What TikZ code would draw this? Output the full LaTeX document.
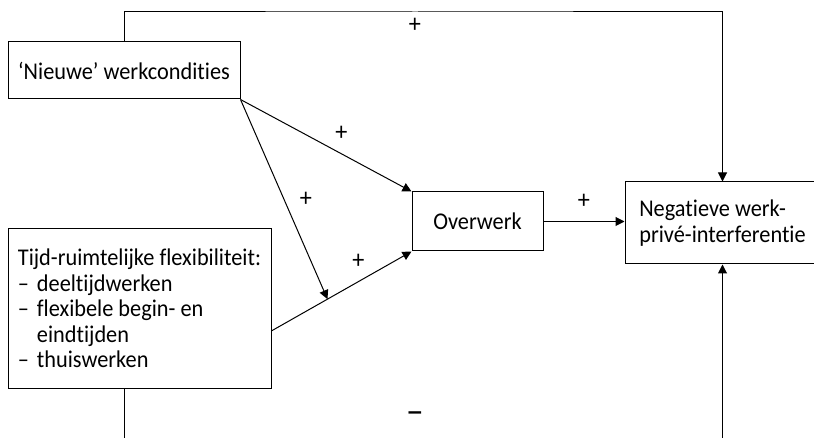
\documentclass[tikz,border=0pt]{standalone}
\usepackage{fontspec}
\setmainfont{Carlito}[Ligatures={TeX,NoCommon}, FakeStretch=0.93]
\usetikzlibrary{arrows.meta,calc}

\newcommand{\itm}[1]{\makebox[9.5pt][l]{–}#1}

\tikzset{
  blok/.style={draw, line width=0.5pt, inner sep=2pt, font=\fontsize{12}{12.8}\selectfont},
  pijl/.style={line width=0.5pt, -{Triangle[length=4.5pt,width=4.5pt]}},
  teken/.style={font=\fontsize{13}{13}\selectfont, inner sep=1pt}
}

\begin{document}
\begin{tikzpicture}[x=0.5pt, y=-0.5pt]
\useasboundingbox (0,0) rectangle (814,438);

% boxes
\node [blok, minimum width=116pt, minimum height=28.5pt] (nieuw) at (124, 70.5) {‘Nieuwe’ werkcondities};
\node [blok, minimum width=65.5pt, minimum height=29.5pt] (overwerk) at (477.5, 221.5) {Overwerk};
\node [blok, minimum width=97.5pt, minimum height=41pt, align=left] (interf) at (722.5, 223) {Negatieve werk-\\privé-interferentie};
\node [blok, minimum width=131.5pt, minimum height=79.5pt, align=left] (flex) at (139.5, 308.5)
  {Tijd-ruimtelijke flexibiliteit:\\\itm{deeltijdwerken}\\\itm{flexibele begin- en}\\\hspace*{9.5pt}eindtijden\\\itm{thuiswerken}};

% helper points
\coordinate (dout) at ($(flex.south east)!0.36!(flex.north east)$);
\coordinate (boven) at (415, 12);
\coordinate (onder) at (415, 450);

% direct paths
\draw [pijl] (nieuw.south east) -- node [teken, pos=.59, yshift=10pt] (plus2) {+} (overwerk.north west);
\draw [pijl] (dout) -- coordinate [pos=.4] (mod) node [teken, pos=.62, yshift=10pt] (plus4) {+} (overwerk.south west);
\draw [pijl] (nieuw.south east) -- node [teken, pos=.5, xshift=11pt] (plus3) {+} (mod);
\draw [pijl] (overwerk.east) -- node [teken, above=5pt] (plus5) {+} (overwerk.east -| interf.west);

% top loop
\draw [pijl] (nieuw.north) |- (boven) -| (interf.north);
\node [teken] (plus1) at (415, 25) {+};

% bottom loop
\draw [pijl] (nieuw.north |- flex.south) |- (onder) -| (interf.south);
\node [teken, font=\fontsize{19}{19}\selectfont] (min1) at (415, 418) {–};

\end{tikzpicture}
\end{document}
